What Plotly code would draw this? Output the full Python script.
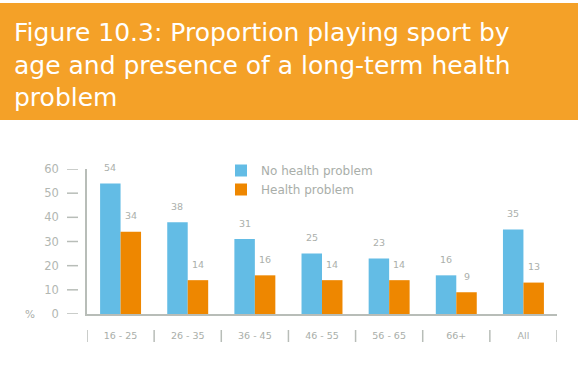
import plotly.graph_objects as go

# Proportion playing sport (%), by age group and long-term health problem
age_groups = ["16 - 25", "26 - 35", "36 - 45", "46 - 55", "56 - 65", "66+", "All"]
no_health_problem = [54, 38, 31, 25, 23, 16, 35]
health_problem = [34, 14, 16, 14, 14, 9, 13]
y_ticks = [0, 10, 20, 30, 40, 50, 60]

title_text = ("Figure 10.3: Proportion playing sport by<br>"
              "age and presence of a long-term health<br>"
              "problem")

BLUE = "#63BCE5"
ORANGE = "#EE8700"
BAND = "#F4A128"
GREY = "#A9AEA9"
LINE = "#B8BDB8"
FONT = "DejaVu Sans"

W, H = 578, 378
ML, MR, MT, MB = 87, 21, 169, 64
PW, PH = W - ML - MR, H - MT - MB


def px_x(px):
    return (px - ML) / PW


def px_y(py):
    return (H - MB - py) / PH


fig = go.Figure()
fig.add_trace(go.Bar(name="No health problem", x=age_groups, y=no_health_problem,
                     marker=dict(color=BLUE, line_width=0)))
fig.add_trace(go.Bar(name="Health problem", x=age_groups, y=health_problem,
                     marker=dict(color=ORANGE, line_width=0)))

bargap = 0.39
half = (1 - bargap) / 4  # offset of each bar centre from the category centre

annotations = []
for i, (a, b) in enumerate(zip(no_health_problem, health_problem)):
    for xv, val in ((i - half, a), (i + half, b)):
        annotations.append(dict(x=xv, y=val, xref="x", yref="y", text=str(val),
                                showarrow=False, yshift=16,
                                font=dict(family=FONT, size=9.5, color="#ABAFAB")))

# title on the orange band
annotations.append(dict(x=px_x(12), y=px_y(16), xref="paper", yref="paper",
                        xanchor="left", yanchor="top", align="left",
                        text=title_text, showarrow=False,
                        font=dict(family=FONT, size=25, color="white")))

annotations.append(dict(x=px_x(23), y=px_y(322), xref="paper", yref="paper",
                        text="%", showarrow=False,
                        font=dict(family=FONT, size=10.5, color=GREY)))

shapes = [dict(type="rect", xref="paper", yref="paper",
               x0=px_x(0), x1=px_x(W), y0=px_y(120), y1=px_y(3),
               fillcolor=BAND, line_width=0, layer="below")]
# short dashes beside the y tick labels
for t in y_ticks:
    shapes.append(dict(type="line", xref="paper", yref="y",
                       x0=px_x(67), x1=px_x(78), y0=t, y1=t,
                       line=dict(color=LINE, width=1.5)))
# separators between age groups below the axis
for i in range(len(age_groups) + 1):
    shapes.append(dict(type="line", xref="x", yref="paper",
                       x0=i - 0.5, x1=i - 0.5, y0=px_y(330), y1=px_y(342),
                       line=dict(color=LINE, width=1.5)))

fig.update_layout(
    width=W, height=H,
    margin=dict(l=ML, r=MR, t=MT, b=MB, autoexpand=False),
    paper_bgcolor="white", plot_bgcolor="white",
    barmode="group", bargap=bargap, bargroupgap=0,
    font=dict(family=FONT, color=GREY),
    showlegend=True,
    legend=dict(x=px_x(221), y=px_y(156), xanchor="left", yanchor="top",
                font=dict(family=FONT, size=12, color=GREY),
                bgcolor="rgba(0,0,0,0)", itemwidth=30, tracegroupgap=0),
    xaxis=dict(range=[-0.5, len(age_groups) - 0.5], showline=True, linecolor=LINE,
               linewidth=1.5, ticks="", showgrid=False, zeroline=False,
               tickfont=dict(family=FONT, size=9.5, color=GREY), ticklabelstandoff=12),
    yaxis=dict(range=[0, 60], tickvals=y_ticks, showline=True, linecolor=LINE,
               linewidth=1.5, ticks="", showgrid=False, zeroline=False,
               tickfont=dict(family=FONT, size=11.5, color="#B2B7B2"), ticklabelstandoff=24),
    annotations=annotations,
    shapes=shapes,
)

fig.write_html("out.html")
